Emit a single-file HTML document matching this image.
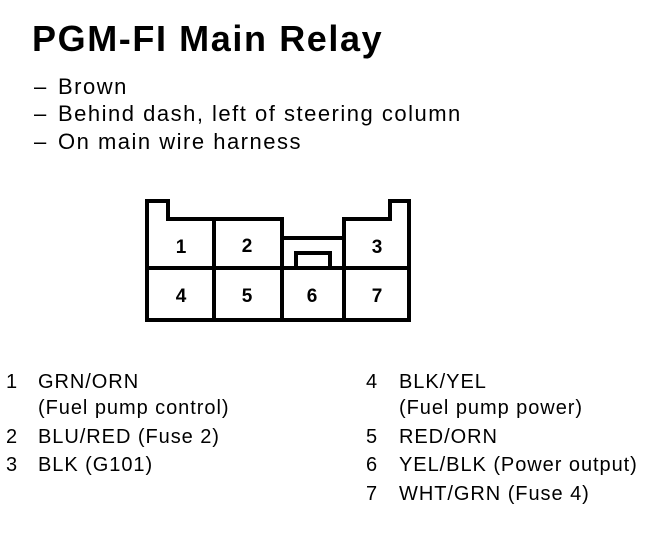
<!DOCTYPE html>
<html><head><style>
body{margin:0;width:672px;height:540px;background:#fff;position:relative;overflow:hidden;font-family:"Liberation Sans",sans-serif;color:#000}
.t{position:absolute;white-space:nowrap}
h1{position:absolute;left:32px;top:18px;margin:0;font-size:36px;font-weight:bold;letter-spacing:1.6px;white-space:nowrap}
.b{font-size:22px;letter-spacing:1.5px}
.l{font-size:20px;letter-spacing:0.95px}
</style></head><body>
<h1>PGM-FI Main Relay</h1>
<div class="t b" style="left:34px;top:74px">–</div><div class="t b" style="left:58px;top:74px">Brown</div>
<div class="t b" style="left:34px;top:101px">–</div><div class="t b" style="left:58px;top:101px">Behind dash, left of steering column</div>
<div class="t b" style="left:34px;top:129px">–</div><div class="t b" style="left:58px;top:129px">On main wire harness</div>
<svg style="position:absolute;left:0;top:0" width="672" height="540">
<g fill="none" stroke="#000" stroke-width="4" stroke-linejoin="miter">
<path d="M147,320 V201 H168 V219 H282 V238 H344 V219 H390 V201 H409 V320 Z"/>
<line x1="147" y1="268" x2="409" y2="268"/>
<line x1="214" y1="219" x2="214" y2="320"/>
<line x1="282" y1="238" x2="282" y2="320"/>
<line x1="344" y1="238" x2="344" y2="320"/>
<path d="M296,268 V253 H330 V268"/>
</g>
<g font-family="Liberation Sans" font-weight="bold" font-size="19" text-anchor="middle">
<text x="181" y="253">1</text><text x="247" y="252">2</text><text x="377" y="253">3</text>
<text x="181" y="302">4</text><text x="247" y="302">5</text><text x="312" y="302">6</text><text x="377" y="302">7</text>
</g>
</svg>
<div class="t l" style="left:6px;top:371px">1</div><div class="t l" style="left:38px;top:371px">GRN/ORN</div>
<div class="t l" style="left:38px;top:397px">(Fuel pump control)</div>
<div class="t l" style="left:6px;top:426px">2</div><div class="t l" style="left:38px;top:426px">BLU/RED (Fuse 2)</div>
<div class="t l" style="left:6px;top:454px">3</div><div class="t l" style="left:38px;top:454px">BLK (G101)</div>
<div class="t l" style="left:366px;top:371px">4</div><div class="t l" style="left:399px;top:371px">BLK/YEL</div>
<div class="t l" style="left:399px;top:397px">(Fuel pump power)</div>
<div class="t l" style="left:366px;top:426px">5</div><div class="t l" style="left:399px;top:426px">RED/ORN</div>
<div class="t l" style="left:366px;top:454px">6</div><div class="t l" style="left:399px;top:454px">YEL/BLK (Power output)</div>
<div class="t l" style="left:366px;top:483px">7</div><div class="t l" style="left:399px;top:483px">WHT/GRN (Fuse 4)</div>
</body></html>
